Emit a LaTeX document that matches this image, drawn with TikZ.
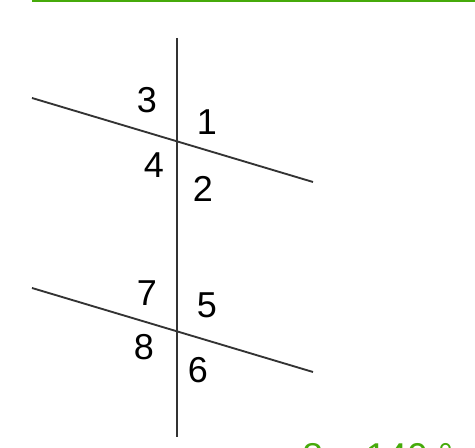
\documentclass[tikz,border=0pt]{standalone}
\usepackage{fontspec}
\setmainfont{Liberation Sans}
\usepackage{xcolor}
\usetikzlibrary{calc, positioning}
\definecolor{topgreen}{RGB}{70,170,10}

\begin{document}
\begin{tikzpicture}[x=0.75pt, y=-0.75pt,
  ln/.style={line width=1.4pt, black!80},
  lbl/.style={inner sep=0pt, font=\fontsize{27}{30}\selectfont}]
\clip (0,0) rectangle (475,448);
\draw[topgreen, line width=2.2pt] (32,1) -- (475,1);
\coordinate (T) at (177,38);
\coordinate (B) at (177,437);
\coordinate (P) at (32,98);
\coordinate (Q) at (313,182);
\coordinate (R) at (32,288);
\coordinate (S) at (313,372);
\draw[ln] (T) -- (B);
\draw[ln] (P) -- (Q);
\draw[ln] (R) -- (S);
\node[lbl] (a3) at (147,100) {3};
\node[lbl] (a1) at (207,122) {1};
\node[lbl] (a4) at (154,165) {4};
\node[lbl] (a2) at (203,189) {2};
\node[lbl] (a7) at (147,293) {7};
\node[lbl] (a5) at (207,305) {5};
\node[lbl] (a8) at (144,347) {8};
\node[lbl] (a6) at (198,370) {6};
\node[anchor=base west, inner sep=0pt, text=topgreen, font=\fontsize{28}{30}\selectfont] (eq) at (302,470) {8 = 140 °};
\end{tikzpicture}
\end{document}
